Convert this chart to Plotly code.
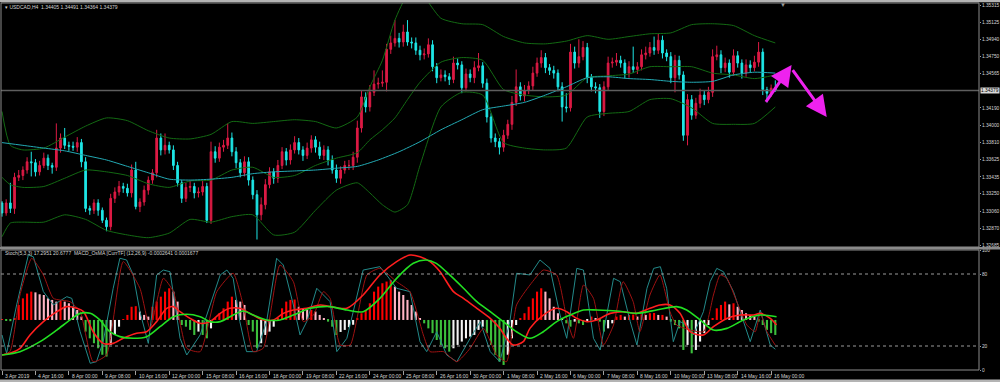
import plotly.graph_objects as go

# ---------------- data ----------------
symbol = "USDCAD,H4"
tick_bars = [0, 8, 16, 24, 32, 40, 48, 56, 64, 72, 80, 88, 96, 104, 112, 120, 128, 136, 144, 152, 160, 168, 176, 184]
tick_labels = ["3 Apr 2019", "4 Apr 16:00", "8 Apr 00:00", "9 Apr 08:00", "10 Apr 16:00", "12 Apr 00:00",
               "15 Apr 08:00", "16 Apr 16:00", "18 Apr 00:00", "19 Apr 08:00", "22 Apr 16:00", "24 Apr 00:00",
               "25 Apr 08:00", "26 Apr 16:00", "30 Apr 00:00", "1 May 08:00", "2 May 16:00", "6 May 00:00",
               "7 May 08:00", "8 May 16:00", "10 May 00:00", "13 May 08:00", "14 May 16:00", "16 May 00:00"]
price_ticks = [1.35315, 1.35125, 1.34940, 1.34750, 1.34565, 1.34190, 1.34000, 1.33810, 1.33625,
               1.33435, 1.33250, 1.33060, 1.32870, 1.32685]
osc_ticks = [0, 20, 80, 100]

first_open = 1.3315
closes = [
    1.3304, 1.3315, 1.3309, 1.3343, 1.3345, 1.3351, 1.3360, 1.3359, 1.3349, 1.3356,
    1.3364, 1.3356, 1.3354, 1.3375, 1.3386, 1.3378, 1.3377, 1.3376, 1.3381, 1.3360,
    1.3309, 1.3307, 1.3315, 1.3307, 1.3296, 1.3289, 1.3320, 1.3327, 1.3333, 1.3331,
    1.3326, 1.3351, 1.3311, 1.3316, 1.3329, 1.3340, 1.3348, 1.3386, 1.3373, 1.3378,
    1.3373, 1.3356, 1.3337, 1.3320, 1.3332, 1.3333, 1.3326, 1.3327, 1.3333, 1.3296,
    1.3371, 1.3364, 1.3376, 1.3378, 1.3386, 1.3371, 1.3359, 1.3348, 1.3360, 1.3340,
    1.3324, 1.3302, 1.3313, 1.3335, 1.3349, 1.3342, 1.3356, 1.3371, 1.3362, 1.3373,
    1.3381, 1.3373, 1.3367, 1.3375, 1.3384, 1.3376, 1.3367, 1.3373, 1.3362, 1.3351,
    1.3342, 1.3351, 1.3356, 1.3356, 1.3365, 1.3397, 1.3431, 1.3420, 1.3436, 1.3445,
    1.3446, 1.3447, 1.3483, 1.3490, 1.3495, 1.3491, 1.3502, 1.3491, 1.3490, 1.3482,
    1.3477, 1.3478, 1.3488, 1.3464, 1.3452, 1.3455, 1.3453, 1.3450, 1.3468, 1.3466,
    1.3441, 1.3456, 1.3452, 1.3463, 1.3465, 1.3446, 1.3409, 1.3386, 1.3382, 1.3376,
    1.3389, 1.3401, 1.3425, 1.3442, 1.3432, 1.3438, 1.3443, 1.3457, 1.3468, 1.3474,
    1.3463, 1.3460, 1.3457, 1.3442, 1.3420, 1.3419, 1.3480, 1.3468, 1.3475, 1.3485,
    1.3452, 1.3442, 1.3441, 1.3415, 1.3442, 1.3468, 1.3469, 1.3471, 1.3468, 1.3457,
    1.3464, 1.3461, 1.3464, 1.3477, 1.3479, 1.3485, 1.3482, 1.3493, 1.3479, 1.3475,
    1.3452, 1.3471, 1.3455, 1.3389, 1.3428, 1.3411, 1.3424, 1.3433, 1.3428, 1.3436,
    1.3475, 1.3477, 1.3463, 1.3468, 1.3458, 1.3476, 1.3468, 1.3457, 1.3466, 1.3463,
    1.3469, 1.3480, 1.3439, 1.3435, 1.34405, 1.34379,
]
upper_wicks_pips = [
    2, 4, 22, 5, 6, 4, 5, 11, 4, 5,
    6, 4, 3, 27, 5, 11, 4, 5, 6, 4,
    5, 3, 4, 4, 3, 3, 5, 5, 6, 4,
    5, 6, 9, 4, 5, 4, 4, 9, 5, 13,
    4, 5, 4, 3, 5, 6, 4, 5, 6, 4,
    11, 6, 5, 6, 16, 6, 5, 4, 6, 5,
    4, 5, 8, 6, 5, 4, 6, 5, 4, 6,
    7, 5, 4, 6, 5, 4, 6, 5, 4, 5,
    6, 4, 5, 6, 6, 8, 7, 5, 8, 15,
    6, 13, 6, 8, 20, 6, 8, 13, 5, 6,
    5, 6, 7, 5, 4, 6, 5, 4, 7, 5,
    4, 6, 5, 7, 14, 4, 5, 4, 5, 4,
    6, 5, 7, 19, 5, 6, 5, 7, 6, 8,
    5, 4, 5, 4, 5, 15, 9, 6, 19, 7,
    5, 4, 5, 4, 6, 7, 5, 8, 5, 4,
    6, 22, 5, 6, 7, 6, 12, 7, 5, 4,
    5, 6, 5, 4, 6, 5, 6, 7, 5, 6,
    8, 10, 5, 6, 4, 7, 5, 4, 6, 5,
    7, 11, 4, 3, 4, 8.6,
]
lower_wicks_pips = [
    4, 3, 5, 6, 4, 5, 4, 15, 5, 4,
    3, 5, 7, 4, 5, 4, 5, 4, 5, 6,
    4, 5, 4, 6, 3, 5, 4, 5, 4, 5,
    4, 5, 3, 6, 4, 5, 4, 5, 6, 5,
    4, 5, 4, 5, 4, 5, 6, 5, 4, 3,
    4, 5, 4, 5, 4, 5, 6, 5, 4, 6,
    5, 27, 6, 5, 4, 6, 5, 4, 6, 5,
    4, 5, 6, 4, 5, 6, 4, 5, 6, 4,
    5, 6, 4, 5, 5, 6, 5, 6, 5, 4,
    5, 4, 10, 5, 4, 6, 5, 4, 6, 5,
    6, 5, 4, 5, 6, 4, 5, 6, 4, 5,
    6, 4, 5, 6, 4, 5, 6, 5, 6, 8,
    5, 4, 6, 4, 5, 6, 4, 5, 4, 5,
    6, 5, 6, 5, 16, 5, 4, 6, 5, 4,
    6, 5, 6, 7, 5, 4, 5, 4, 5, 6,
    5, 4, 5, 4, 5, 4, 5, 4, 6, 5,
    6, 16, 5, 6, 11, 5, 4, 5, 6, 4,
    5, 4, 6, 5, 6, 4, 5, 6, 4, 5,
    4, 5, 6, 10, 4, 1.5,
]

# Bollinger bands (20) and moving average, read at these bars
band_bars = [0, 2, 5, 10, 15, 20, 25, 30, 35, 40, 45, 50, 55, 60, 65, 70, 75, 80, 85, 88,
             91, 94, 97, 100, 105, 110, 115, 120, 125, 130, 135, 140, 145, 150, 155, 160, 165, 170, 175, 180, 185]
bb_upper = [1.3415, 1.3378, 1.3373, 1.3375, 1.3387, 1.3399, 1.3408, 1.3405, 1.3394, 1.3386,
            1.3385, 1.3390, 1.3404, 1.3402, 1.3404, 1.3406, 1.3404, 1.3397, 1.3409, 1.3442,
            1.3471, 1.3515, 1.3542, 1.3545, 1.3517, 1.3511, 1.3510, 1.3497, 1.3490, 1.3489,
            1.3492, 1.3498, 1.3494, 1.3497, 1.3500, 1.3501, 1.3510, 1.3511, 1.3509, 1.3498, 1.3490]
bb_middle = [1.3343, 1.3335, 1.3332, 1.3333, 1.3342, 1.3351, 1.3349, 1.3345, 1.3336, 1.3332,
             1.3339, 1.3340, 1.3351, 1.3354, 1.3343, 1.3345, 1.3356, 1.3364, 1.3370, 1.3384,
             1.3395, 1.3408, 1.3428, 1.3447, 1.3469, 1.3474, 1.3471, 1.3439, 1.3433, 1.3431,
             1.3433, 1.3452, 1.3454, 1.3456, 1.3464, 1.3464, 1.3464, 1.3457, 1.3455, 1.3451, 1.3455]
bb_lower = [1.3278, 1.3293, 1.3294, 1.3294, 1.3302, 1.3297, 1.3285, 1.3280, 1.3277, 1.3282,
            1.3297, 1.3294, 1.3300, 1.3302, 1.3280, 1.3283, 1.3307, 1.3329, 1.3337, 1.3326,
            1.3313, 1.3305, 1.3313, 1.3356, 1.3420, 1.3436, 1.3433, 1.3381, 1.3375, 1.3373,
            1.3375, 1.3409, 1.3413, 1.3415, 1.3428, 1.3429, 1.3419, 1.3402, 1.3401, 1.3402, 1.3420]
ma_bars = [0, 5, 10, 15, 20, 25, 30, 35, 40, 45, 50, 55, 60, 65, 70, 75, 80, 85, 90, 95,
           100, 105, 110, 115, 120, 125, 130, 135, 140, 145, 150, 155, 160, 165, 170, 175, 180, 185]
ma_values = [1.3381, 1.3378, 1.3375, 1.3372, 1.3367, 1.3362, 1.3355, 1.3348, 1.3341, 1.3340,
             1.3341, 1.3343, 1.3347, 1.3349, 1.3350, 1.3351, 1.3353, 1.3355, 1.3362, 1.3371,
             1.3382, 1.3395, 1.3406, 1.3417, 1.3421, 1.3425, 1.3433, 1.3442, 1.3452, 1.3453,
             1.3451, 1.3450, 1.3448, 1.3447, 1.3448, 1.3455, 1.3458, 1.3457]

# hand-drawn arrows (bar, price)
arrow_tail_bars = [182.5, 188.9]
arrow_tail_prices = [1.3424, 1.3462]
arrow_tip_bars = [188.9, 197.3]
arrow_tip_prices = [1.3466, 1.3409]

# Sub window: Stochastic (5,3,3) and MACD_OsMA, on the window's 0..100 scale
stoch_k_bars = [0, 1.1, 3.5, 6.3, 7.5, 9.9, 12.3, 15.5, 16.7, 18.7, 21.1, 22.6, 24.2, 26.6, 28.2, 29.8, 31.4, 33, 35,
                37, 38.6, 40.2, 42.6, 44.2, 47.4, 50.6, 52.2, 53.8, 55.3, 56.9, 58.5, 60.9, 63.3, 65.7, 67.3,
                69.7, 71.3, 72.9, 75.3, 76.9, 78.5, 80.1, 82.5, 86.4, 90.4, 92, 94.4, 97.6, 100, 101.6, 104,
                106.4, 108.8, 112, 114.4, 116.8, 119.1, 121.5, 123.1, 126.3, 128.7, 131.1, 133.5, 135.1,
                137.5, 139.1, 141.5, 143.1, 146.3, 147.9, 150.3, 151.9, 154.3, 155.9, 157.5, 159, 160.6,
                162.2, 163.8, 165.4, 167.8, 169.4, 171, 172.6, 175, 177.4, 179, 181.4, 183.8, 185]
stoch_k = [29.2, 13.9, 54.2, 95.8, 94.4, 65.3, 54.2, 61.1, 59.7, 31.9, 5.6, 6.9, 23.6, 68.1, 93.1, 91.7, 79.2, 48.6, 22.2,
           79.2, 83.3, 81.9, 26.4, 12.5, 29.2, 62.5, 79.2, 83.3, 76.4, 40.3, 15.3, 15.3, 40.3, 93.1, 87.5,
           54.2, 29.2, 40.3, 68.1, 62.5, 56.9, 15.3, 26.4, 83.3, 86.1, 79.2, 68.1, 65.3, 23.6, 15.3, 31.9,
           12.5, 6.9, 26.4, 40.3, 15.3, 6.9, 40.3, 80.6, 79.2, 91.7, 84.7, 45.8, 26.4,
           84.7, 83.3, 26.4, 16.7, 76.4, 73.6, 40.3, 20.8, 68.1, 84.7, 86.1, 68.1, 23.6,
           40.3, 37.5, 29.2, 48.6, 73.6, 84.7, 81.9, 65.3, 40.3, 23.6, 50, 20.8, 17.3]
stoch_d_bars = [0, 1.9, 4.3, 7.1, 9.9, 12.3, 16.3, 18.7, 21.8, 25, 29, 33, 35.4, 38.6, 41, 44.2, 47.4, 51.4,
                55.3, 57.7, 60.1, 62.5, 66.5, 69.7, 72.1, 74.5, 76.9, 78.5, 80.9, 83.3, 87.3, 90.4, 94.4,
                97.6, 100.8, 102.4, 105.6, 108.8, 112, 115.2, 118.3, 120.7, 123.1, 126.3, 129.5, 132.7,
                135.1, 136.7, 139.1, 141.5, 143.9, 146.3, 148.6, 151, 152.6, 155, 157.4, 159.8, 161.4,
                167.8, 170.2, 171.8, 173.4, 175.8, 178.2, 180.2, 181.4, 183, 185]
stoch_d = [12.5, 15.3, 62.5, 93.1, 79.2, 59.7, 56.9, 48.6, 6.9, 12.5, 90.3, 68.1, 34.7, 76.4, 65.3, 18.1, 15.3, 65.3,
           80.6, 54.2, 15.3, 18.1, 87.5, 73.6, 40.3, 45.8, 65.3, 59.7, 20.8, 20.8, 79.2, 84.7, 73.6,
           65.3, 29.2, 15.3, 15.3, 6.9, 18.1, 34.7, 12.5, 6.9, 54.2, 70.8, 83.3, 79.2,
           43.1, 26.4, 70.8, 59.7, 20.8, 37.5, 73.6, 56.9, 31.9, 62.5, 79.2, 48.6, 37.5,
           31.9, 62.5, 79.2, 76.4, 56.9, 37.5, 31.9, 47.2, 31.9, 20.7]
macd_bars = [0, 1.9, 4.3, 6.7, 9.9, 13.1, 15.5, 17.9, 19.5, 21.8, 24.2, 26.6, 29, 32.2, 34.6, 37, 39.4, 41,
             42.6, 45, 47.4, 49.8, 52.2, 54.5, 56.9, 59.3, 62.5, 64.9, 67.3, 69.7, 72.9, 76.1, 78.5, 82.5,
             86.4, 90.4, 94.4, 97.6, 100, 102.4, 104.8, 108, 110.4, 113.6, 116.8, 119.1, 120.7, 122.3,
             124.7, 126.3, 129.5, 132.7, 135.1, 137.5, 139.9, 142.3, 145.5, 148.6, 151.8, 155, 157.4,
             159.8, 162.2, 164.6, 167.8, 170.2, 173.4, 176.6, 179.8, 181.4, 183.8, 185.3]
macd_line = [12.5, 13.9, 18, 29.2, 40.3, 48.6, 52.8, 51.4, 48.6, 31.9, 22.2, 22.2, 26.4, 30.6, 31.9, 40.3, 51.4, 52.8,
             48.6, 43, 38.9, 40.3, 47.2, 51.4, 51.4, 47.2, 41.7, 41.7, 47.2, 50, 51.4, 54.2, 52.8, 51.4,
             62.5, 79.2, 90.3, 95.8, 94.4, 90.3, 81.9, 65.3, 59.7, 51.4, 43, 34.7, 26.4, 20.8,
             23.6, 34.7, 45.8, 51.4, 48.6, 43, 40.3, 41.7, 47.2, 48.6, 47.2, 51.4, 54.2,
             54.2, 47.2, 31.9, 29.2, 36.1, 43, 45.8, 45.8, 47.2, 43, 37.5]
signal_bars = [0, 4.3, 9.1, 13.1, 16.3, 18.7, 21.1, 23.4, 25.8, 28.2, 31.4, 34.6, 37.8, 41, 44.2, 47.4, 49.8,
               52.2, 55.3, 57.7, 60.1, 63.3, 66.5, 69.7, 73.7, 76.9, 78.5, 82.5, 86.4, 90.4, 94.4, 98.4,
               101.5, 103.9, 107.1, 110.4, 113.6, 116.8, 119.9, 123.1, 126.3, 129.5, 132.7, 135.9, 139.1,
               142.3, 147.1, 151.8, 156.6, 161.4, 163.8, 167, 170.2, 173.4, 177.4, 181.4, 185.3]
signal_line = [12.5, 15.3, 23.6, 33.3, 41.7, 47.2, 47.2, 41.7, 31.9, 27.8, 26.4, 27.8, 36.1, 44.4, 46.4, 44.4, 40.3,
               40.3, 45.8, 49.2, 45.8, 41.7, 41.7, 45.8, 51.4, 52.8, 52.8, 50, 48.6, 59.7, 76.4, 88.9,
               91.7, 88.9, 79.2, 68.1, 56.9, 48.6, 40.3, 31.9, 26.4, 31.9, 40.3, 45.8, 50,
               50, 49.2, 47.2, 50, 52.8, 50, 41.7, 33.3, 34.7, 41.7, 45.8, 44.4]
osma_hist = [
    0.5, -0.5, -1, 1.4, 12.5, 18, 22, 23.6, 23, 21.4,
    20.8, 18, 16.7, 15.3, 15.8, 15.3, 13.9, 11, 8.3, 2.8,
    -9.7, -15.3, -19.4, -23.6, -29, -30.5, -20.8, -12.5, -5.6, 0.5,
    4.2, 11, 11.5, 7, 4.2, 2.8, 11, 15.3, 19.4, 23.6,
    26.4, 23.6, 15.3, -4.2, -5.6, -8.3, -12.5, -9.7, -12.5, -15.3,
    -7, 1.4, 5.6, 9.7, 15.3, 19.4, 16.7, 15.3, 12.5, -4.2,
    -9.7, -23.6, -19.4, -12.5, -9.7, -5.6, 1.4, 9.7, 15.3, 16.7,
    17, 11, 9.7, 8.3, 8.5, 7, 4.2, 1.4, -1.4, -5.6,
    -12.5, -10, -8.3, -6, -4, 1.4, 5.6, 8.3, 13.9, 23.6,
    27.8, 30.6, 32, 33.3, 27.8, 23.6, 20.8, 16.7, 12.5, 7,
    1, -2.8, -7, -11, -16.7, -20.8, -23.6, -26.4, -23.6, -20.8,
    -18, -15.3, -13.9, -12.5, -8.3, -5.6, -11, -20.8, -29, -34.7,
    -37.5, -29, -15.3, -4.2, 1.4, 5.6, 11, 18, 23.6, 26.4,
    23.6, 18, 11, 5.6, 1.4, -2.8, -5.6, -1.4, -2.8, -4.2,
    -1, 2.8, 1.4, -1.4, -9.7, -7, -2.8, 2.8, 4.2, 2.8,
    4.2, 4.5, 2.8, 4.7, 4.2, 5.6, 5.8, 4.2, 4.2, 2.8,
    -1.4, -4.2, -7, -25, -20.8, -27.8, -25, -18, -11, -4.2,
    1.4, 9.7, 12.5, 15.3, 13, 13.9, 11, 8.3, 5.6, 4.2,
    2.8, -1.4, -4.2, -8.3, -11, -12.5,
]
stoch_last = (17.2951, 20.6777)
osma_last = (-0.0002641, 0.0001677)

# ---------------- styles ----------------
BG = "#000000"
TXT = "#d4d4d4"
FRAME = "#8c8c8c"
UP = "#dc1a44"
DOWN = "#1ee6e6"
BB = "#136a13"
MA = "#23aab4"
K_COL = "#238a8a"
D_COL = "#9e1212"
MACD_COL = "#ff1e1e"
SIG_COL = "#22e022"
H_RED, H_PINK, H_GREEN, H_WHITE = "#ff0000", "#ffb4c4", "#3cc03c", "#f4f4f4"
ARROW = "#ee22ee"
FONT = "Liberation Sans, Arial, sans-serif"
HIST_BASE = 41.7

W, H = 1000, 382
ML, MR, MT, MB = 1, 21, 3, 12


def px_x(X):
    return (X - ML) / (W - ML - MR)


def px_y(Y):
    return (H - MB - Y) / (H - MT - MB)


main_dom = [px_y(247), 1.0]
osc_dom = [0.0, px_y(250)]
x_range = [-0.24, 233.73]
price_range = [1.32668, 1.35337]

# ---------------- derived tables ----------------
bars = list(range(len(closes)))
opens = [first_open] + closes[:-1]
highs = [max(o, c) + u / 10000 for o, c, u in zip(opens, closes, upper_wicks_pips)]
lows = [min(o, c) - d / 10000 for o, c, d in zip(opens, closes, lower_wicks_pips)]

hist_colors = []
for i, v in enumerate(osma_hist):
    p = osma_hist[i - 1] if i > 0 else v
    if v >= 0:
        hist_colors.append(H_RED if v >= p else H_PINK)
    else:
        hist_colors.append(H_GREEN if v < p else H_WHITE)

fig = go.Figure()

# main window
fig.add_trace(go.Candlestick(
    x=bars, open=opens, high=highs, low=lows, close=closes, xaxis="x", yaxis="y",
    increasing=dict(line=dict(color=UP, width=1), fillcolor=UP),
    decreasing=dict(line=dict(color=DOWN, width=1), fillcolor=DOWN),
    whiskerwidth=0, hoverinfo="skip", showlegend=False))
for vals in (bb_upper, bb_middle, bb_lower):
    fig.add_trace(go.Scatter(x=band_bars, y=vals, mode="lines", xaxis="x", yaxis="y",
                             line=dict(color=BB, width=1, shape="spline", smoothing=0.6),
                             hoverinfo="skip", showlegend=False))
fig.add_trace(go.Scatter(x=ma_bars, y=ma_values, mode="lines", xaxis="x", yaxis="y",
                         line=dict(color=MA, width=1, shape="spline", smoothing=0.6),
                         hoverinfo="skip", showlegend=False))

# sub window
fig.add_trace(go.Bar(x=bars, y=osma_hist, base=HIST_BASE, xaxis="x2", yaxis="y2",
                     marker=dict(color=hist_colors, line=dict(width=0)), width=0.5,
                     hoverinfo="skip", showlegend=False))
fig.add_trace(go.Scatter(x=stoch_k_bars, y=stoch_k, mode="lines", xaxis="x2", yaxis="y2",
                         line=dict(color=K_COL, width=1), hoverinfo="skip", showlegend=False))
fig.add_trace(go.Scatter(x=stoch_d_bars, y=stoch_d, mode="lines", xaxis="x2", yaxis="y2",
                         line=dict(color=D_COL, width=1, shape="spline", smoothing=0.5),
                         hoverinfo="skip", showlegend=False))
fig.add_trace(go.Scatter(x=macd_bars, y=macd_line, mode="lines", xaxis="x2", yaxis="y2",
                         line=dict(color=MACD_COL, width=1.6, shape="spline", smoothing=0.8),
                         hoverinfo="skip", showlegend=False))
fig.add_trace(go.Scatter(x=signal_bars, y=signal_line, mode="lines", xaxis="x2", yaxis="y2",
                         line=dict(color=SIG_COL, width=1.6, shape="spline", smoothing=0.8),
                         hoverinfo="skip", showlegend=False))

shapes = [
    # current bid line
    dict(type="line", xref="x domain", yref="y", x0=0, x1=1, y0=closes[-1], y1=closes[-1],
         line=dict(color="#5e5e5e", width=1.5)),
    # oscillator levels
    dict(type="line", xref="x2 domain", yref="y2", x0=0, x1=1, y0=80, y1=80,
         line=dict(color="#9a9a9a", width=1, dash="dot")),
    dict(type="line", xref="x2 domain", yref="y2", x0=0, x1=1, y0=20, y1=20,
         line=dict(color="#9a9a9a", width=1, dash="dot")),
    # frames
    dict(type="rect", xref="paper", yref="paper", x0=0, x1=1, y0=main_dom[0], y1=1,
         line=dict(color=FRAME, width=1)),
    dict(type="rect", xref="paper", yref="paper", x0=0, x1=1, y0=0, y1=osc_dom[1],
         line=dict(color=FRAME, width=1)),
    dict(type="rect", xref="paper", yref="paper", x0=px_x(0), x1=px_x(W), y0=px_y(249.5), y1=px_y(247),
         fillcolor="#8a8a8a", line=dict(width=0)),
    # window borders
    dict(type="rect", xref="paper", yref="paper", x0=px_x(0), x1=px_x(W), y0=px_y(2.2), y1=px_y(0),
         fillcolor="#b4b4b4", line=dict(width=0)),
    dict(type="rect", xref="paper", yref="paper", x0=px_x(0), x1=px_x(W), y0=px_y(H), y1=px_y(379.5),
         fillcolor="#b4b4b4", line=dict(width=0)),
]

small = dict(family=FONT, size=5, color=TXT)
axis_font = dict(family=FONT, size=4.8, color=TXT)
annotations = []
for b, t in zip(tick_bars, tick_labels):
    annotations.append(dict(x=b, xref="x2", y=0, yref="paper", text=t, xanchor="left", yanchor="top",
                            xshift=1, yshift=-1, showarrow=False, font=small))
annotations.append(dict(
    x=px_x(3), xref="paper", y=px_y(7), yref="paper", xanchor="left", yanchor="middle", showarrow=False,
    text=f"\u25be {symbol}  {opens[-1]:.5f} {highs[-1]:.5f} {lows[-1]:.5f} {closes[-1]:.5f}", font=small))
annotations.append(dict(
    x=px_x(3), xref="paper", y=px_y(253.5), yref="paper", xanchor="left", yanchor="middle", showarrow=False,
    text=f"Stoch(5,3,3) {stoch_last[0]:.4f} {stoch_last[1]:.4f}  MACD_OsMA [CurrTF] (12,26,9) "
         f"{osma_last[0]:.7f} {osma_last[1]:.7f}", font=small))
annotations.append(dict(
    x=1, xref="paper", y=closes[-1], yref="y", xanchor="left", yanchor="middle", xshift=1,
    showarrow=False, text=f"{closes[-1]:.5f}", bgcolor="#d8d8d8", borderpad=0,
    font=dict(family=FONT, size=4.8, color="#000000")))
annotations.append(dict(
    x=px_x(783), xref="paper", y=px_y(4.5), yref="paper", xanchor="center", yanchor="middle",
    showarrow=False, text="\u25bc", font=dict(family=FONT, size=6, color="#9a9a9a")))
for tb, tp, hb, hp in zip(arrow_tail_bars, arrow_tail_prices, arrow_tip_bars, arrow_tip_prices):
    annotations.append(dict(x=hb, y=hp, xref="x", yref="y", ax=tb, ay=tp, axref="x", ayref="y",
                            text="", showarrow=True, arrowhead=2, arrowsize=1.4, arrowwidth=3,
                            arrowcolor=ARROW, standoff=0, startstandoff=0))

axis_common = dict(showgrid=False, zeroline=False, showline=False)
fig.update_layout(
    width=W, height=H,
    margin=dict(l=ML, r=MR, t=MT, b=MB, pad=0),
    paper_bgcolor=BG, plot_bgcolor=BG,
    font=dict(family=FONT, size=5, color=TXT),
    showlegend=False, hovermode=False, boxgap=0.42,
    xaxis=dict(domain=[0, 1], range=x_range, anchor="y", showticklabels=False, ticks="",
               rangeslider=dict(visible=False), **axis_common),
    xaxis2=dict(domain=[0, 1], range=x_range, anchor="y2", showticklabels=False, ticks="outside",
                tickvals=tick_bars, ticklen=4, tickcolor="#a0a0a0", tickwidth=1, **axis_common),
    yaxis=dict(domain=main_dom, range=price_range, side="right", anchor="x",
               tickvals=price_ticks, ticktext=[f"{v:.5f}" for v in price_ticks],
               ticks="outside", ticklen=1, tickcolor="#a0a0a0", tickfont=axis_font, **axis_common),
    yaxis2=dict(domain=osc_dom, range=[0, 100], side="right", anchor="x2",
                tickvals=osc_ticks, ticktext=[str(v) for v in osc_ticks],
                ticks="outside", ticklen=1, tickcolor="#a0a0a0", tickfont=axis_font, **axis_common),
    shapes=shapes, annotations=annotations,
)

fig.write_html("out.html", config={"displayModeBar": False},
               post_script="document.body.style.margin='0';document.body.style.overflow='hidden';")
